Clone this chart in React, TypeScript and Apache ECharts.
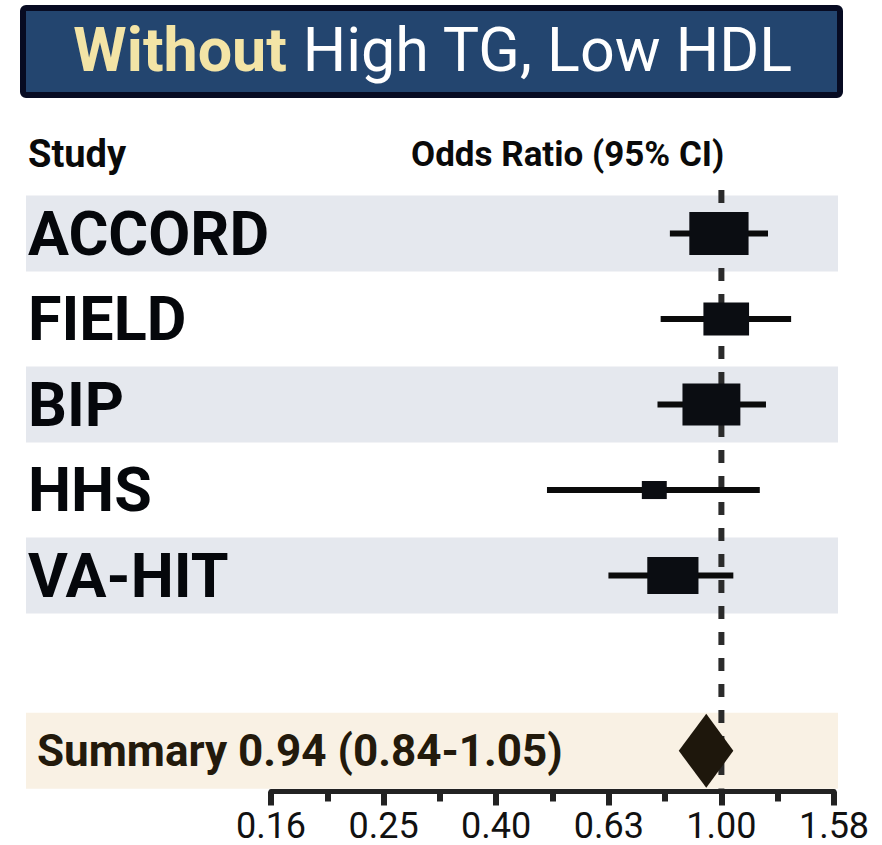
import React, { useEffect, useRef } from "react";
import * as echarts from "echarts";

// ---- data ----
const studies = ["ACCORD", "FIELD", "BIP", "HHS", "VA-HIT"];
const oddsRatio = [0.99, 1.02, 0.96, 0.76, 0.82];
const ciLow = [0.81, 0.78, 0.77, 0.49, 0.63];
const ciHigh = [1.21, 1.33, 1.2, 1.17, 1.05];
const weights = [28.8, 17.1, 27.5, 5.1, 21.5];
const summaryOR = 0.94;
const summaryLow = 0.84;
const summaryHigh = 1.05;
const summaryLabel = "Summary 0.94 (0.84-1.05)";
const tickLabels = ["0.16", "0.25", "0.40", "0.63", "1.00", "1.58"];
const titleEmph = "Without";
const titleRest = "High TG, Low HDL";
const headerStudy = "Study";
const headerOR = "Odds Ratio (95% CI)";
const referenceOR = 1;

// ---- layout ----
const SUMMARY_ROW = 6.05;
const Y_MIN = -0.509;
const Y_MAX = 6.526;
const FONT = "Roboto";

export default function App() {
  const ref = useRef<HTMLDivElement>(null);
  useEffect(() => {
    if (!ref.current) return;
    const chart = echarts.init(ref.current, null, { renderer: "svg" });
    const lg = (v: number) => Math.log10(v);

    const bandData = [
      [0, 0],
      [2, 0],
      [4, 0],
      [SUMMARY_ROW, 1],
    ];
    const studyData = studies.map((_, i) => [
      lg(ciLow[i]),
      lg(oddsRatio[i]),
      lg(ciHigh[i]),
      i,
      weights[i],
    ]);
    const summaryData = [[lg(summaryLow), lg(summaryOR), lg(summaryHigh), SUMMARY_ROW]];

    chart.setOption({
      animation: false,
      backgroundColor: "#ffffff",
      textStyle: { fontFamily: FONT },
      grid: { left: 271, right: 48, top: 190, bottom: 53.5 },
      xAxis: {
        type: "value",
        min: -0.8,
        max: 0.2,
        interval: 0.2,
        splitLine: { show: false },
        axisLine: { onZero: false, lineStyle: { color: "#222", width: 5 } },
        axisTick: { show: true, length: 14, lineStyle: { color: "#222", width: 6 } },
        minorTick: { show: true, splitNumber: 2, length: 10, lineStyle: { color: "#222", width: 6 } },
        axisLabel: {
          fontFamily: FONT,
          fontSize: 36,
          color: "#111",
          margin: 16,
          showMinLabel: true,
          showMaxLabel: true,
          formatter: (v: number) => tickLabels[Math.round((v + 0.8) / 0.2)] ?? "",
        },
      },
      yAxis: {
        type: "value",
        inverse: true,
        min: Y_MIN,
        max: Y_MAX,
        show: false,
        splitLine: { show: false },
      },
      graphic: [
        {
          type: "rect",
          shape: { x: 23, y: 8, width: 817, height: 87, r: 3 },
          style: { fill: "#23456f", stroke: "#070b22", lineWidth: 6 },
        },
        {
          type: "text",
          x: 433,
          y: 50,
          style: {
            text: `{a|${titleEmph}}{b| ${titleRest}}`,
            align: "center",
            verticalAlign: "middle",
            rich: {
              a: { fill: "#f3e4a6", fontSize: 61, fontWeight: "bold", fontFamily: FONT },
              b: { fill: "#ffffff", fontSize: 61, fontWeight: "normal", fontFamily: FONT },
            },
          },
        },
        {
          type: "text",
          x: 28,
          y: 154,
          style: {
            text: headerStudy,
            font: `bold 38px ${FONT}`,
            fill: "#0a0a0a",
            align: "left",
            verticalAlign: "middle",
          },
        },
        {
          type: "text",
          x: 411,
          y: 154,
          style: {
            text: headerOR,
            font: `bold 35px ${FONT}`,
            fill: "#0a0a0a",
            align: "left",
            verticalAlign: "middle",
          },
        },
      ],
      series: [
        {
          type: "custom",
          z: 1,
          clip: false,
          silent: true,
          data: bandData,
          renderItem: (params: any, api: any) => {
            const y = api.coord([0, api.value(0)])[1];
            const pitch = api.size([0, 1])[1];
            const h = pitch * 0.89;
            return {
              type: "rect",
              shape: { x: 26, y: y - h / 2, width: 812, height: h },
              style: { fill: api.value(1) === 1 ? "#f9f1e4" : "#e5e8ee" },
            };
          },
        },
        {
          type: "custom",
          z: 2,
          clip: false,
          silent: true,
          data: [[lg(referenceOR), 0]],
          renderItem: (params: any, api: any) => {
            const x = api.coord([api.value(0), 0])[0];
            const cs = params.coordSys;
            return {
              type: "line",
              shape: { x1: x, y1: cs.y, x2: x, y2: cs.y + cs.height - 3 },
              style: { stroke: "#2b2b2b", lineWidth: 6, lineDash: [13, 13] },
            };
          },
        },
        {
          type: "custom",
          z: 3,
          clip: false,
          silent: true,
          data: studyData,
          renderItem: (params: any, api: any) => {
            const y = api.coord([0, api.value(3)])[1];
            const xl = api.coord([api.value(0), 0])[0];
            const xe = api.coord([api.value(1), 0])[0];
            const xh = api.coord([api.value(2), 0])[0];
            const h = 8 * Math.sqrt(api.value(4));
            const w = 1.38 * h;
            return {
              type: "group",
              children: [
                {
                  type: "line",
                  shape: { x1: xl, y1: y, x2: xh, y2: y },
                  style: { stroke: "#0b0b0b", lineWidth: 6 },
                },
                {
                  type: "rect",
                  shape: { x: xe - w / 2, y: y - h / 2, width: w, height: h },
                  style: { fill: "#0b0d12" },
                },
                {
                  type: "text",
                  style: {
                    text: studies[params.dataIndex],
                    x: 28,
                    y: y,
                    font: `bold 61px ${FONT}`,
                    fill: "#05070b",
                    align: "left",
                    verticalAlign: "middle",
                  },
                },
              ],
            };
          },
        },
        {
          type: "custom",
          z: 4,
          clip: false,
          silent: true,
          data: summaryData,
          renderItem: (params: any, api: any) => {
            const y = api.coord([0, api.value(3)])[1];
            const xl = api.coord([api.value(0), 0])[0];
            const xe = api.coord([api.value(1), 0])[0];
            const xh = api.coord([api.value(2), 0])[0];
            const hh = 37;
            return {
              type: "group",
              children: [
                {
                  type: "polygon",
                  shape: {
                    points: [
                      [xl, y],
                      [xe, y - hh],
                      [xh, y],
                      [xe, y + hh],
                    ],
                  },
                  style: { fill: "#1e170c" },
                },
                {
                  type: "text",
                  style: {
                    text: summaryLabel,
                    x: 37,
                    y: y,
                    font: `bold 44px ${FONT}`,
                    fill: "#231a0c",
                    align: "left",
                    verticalAlign: "middle",
                  },
                },
              ],
            };
          },
        },
      ],
    });
    return () => chart.dispose();
  }, []);

  return (
    <div
      ref={ref}
      style={{ position: "absolute", left: 0, top: 0, width: 882, height: 845, background: "#fff" }}
    />
  );
}
